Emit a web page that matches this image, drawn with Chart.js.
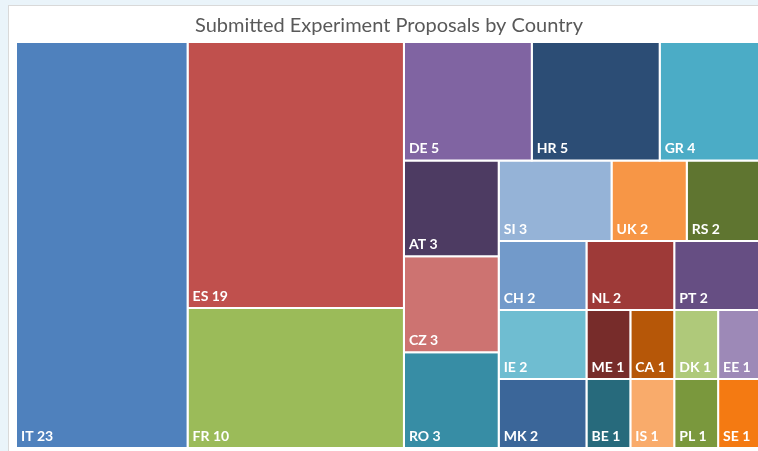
<!DOCTYPE html>
<html>
<head>
<meta charset="utf-8">
<script src="https://cdn.jsdelivr.net/npm/chart.js@4"></script>
<style>
  html, body { margin: 0; padding: 0; background: #eaf4fa; overflow: hidden; width: 758px; height: 451px; }
  #panel { position: absolute; left: 8px; top: 5px; width: 800px; height: 470px; background: #ffffff; border: 1px solid #d9d9d9; }
  #c { position: absolute; left: 0; top: 0; }
</style>
</head>
<body>
<div id="panel"><canvas id="c" width="760" height="446"></canvas></div>
<script>
// ---- data ----
const countries = ['IT','ES','FR','DE','HR','GR','AT','CZ','RO','SI','UK','RS','CH','IE','MK','NL','PT','ME','BE','CA','IS','DK','PL','EE','SE'];
const proposals = [23,19,10,5,5,4,3,3,3,3,2,2,2,2,2,2,2,1,1,1,1,1,1,1,1];
const cellColors = ['#4F81BD','#C0504D','#9BBB59','#8064A2','#2C4D75','#4BACC6','#4D3B62','#CD7371','#378DA5','#95B3D7','#F79646','#5F7530','#729ACA','#6FBDD1','#3B6699','#9E3A38','#664E83','#772C2A','#276A7C','#B65708','#F9AB6B','#AFC97A','#7A983D','#9D89B7','#F47A12'];
const chartTitle = 'Submitted Experiment Proposals by Country';
// strip plan of the treemap layout: number of items per strip and its direction
const stripSizes = [1,2,3,3,3,3,2,2,2,2,2];
const stripDirs  = ['col','col','row','col','row','col','row','col','col','col','col'];

// ---- slice layout in unit space (areas proportional to values) ----
function layout(values) {
  const rects = [];
  let r = {x: 0, y: 0, w: 1, h: 1};
  let remaining = values.reduce((a, b) => a + b, 0);
  let idx = 0;
  stripSizes.forEach((n, si) => {
    const items = values.slice(idx, idx + n);
    const s = items.reduce((a, b) => a + b, 0);
    const frac = s / remaining;
    if (stripDirs[si] === 'col') {
      const sw = r.w * frac;
      let yy = r.y;
      items.forEach(v => { const hh = r.h * v / s; rects.push({x0: r.x, x1: r.x + sw, y0: yy, y1: yy + hh}); yy += hh; });
      r = {x: r.x + sw, y: r.y, w: r.w - sw, h: r.h};
    } else {
      const sh = r.h * frac;
      let xx = r.x;
      items.forEach(v => { const ww = r.w * v / s; rects.push({x0: xx, x1: xx + ww, y0: r.y, y1: r.y + sh}); xx += ww; });
      r = {x: r.x, y: r.y + sh, w: r.w, h: r.h - sh};
    }
    remaining -= s;
    idx += n;
  });
  return rects;
}
const rects = layout(proposals);

const datasets = rects.map((rc, i) => ({
  label: countries[i],
  data: [
    {x: rc.x0, y: rc.y0}, {x: rc.x1, y: rc.y0}, {x: rc.x1, y: rc.y1}, {x: rc.x0, y: rc.y1}, {x: rc.x0, y: rc.y0}
  ],
  backgroundColor: cellColors[i],
  borderColor: '#ffffff',
  borderWidth: 2,
  borderJoinStyle: 'miter',
  fill: 'shape',
  pointRadius: 0,
  tension: 0
}));

const labelPlugin = {
  id: 'cellLabels',
  afterDatasetsDraw(chart) {
    const ctx = chart.ctx;
    const xs = chart.scales.x, ys = chart.scales.y;
    ctx.save();
    ctx.fillStyle = '#ffffff';
    ctx.font = 'bold 14px Lato';
    ctx.textBaseline = 'alphabetic';
    ctx.textAlign = 'left';
    rects.forEach((rc, i) => {
      const px = xs.getPixelForValue(rc.x0) + 5;
      const py = ys.getPixelForValue(rc.y1) - 7;
      ctx.fillText(countries[i] + ' ' + proposals[i], px, py);
    });
    ctx.restore();
  }
};

new Chart(document.getElementById('c'), {
  type: 'line',
  data: { datasets },
  options: {
    responsive: false,
    animation: false,
    events: [],
    layout: { padding: { left: 7, right: 7, top: 0, bottom: 4 } },
    scales: {
      x: { type: 'linear', min: 0, max: 1, display: false },
      y: { type: 'linear', min: 0, max: 1, reverse: true, display: false }
    },
    plugins: {
      legend: { display: false },
      tooltip: { enabled: false },
      title: {
        display: true,
        text: chartTitle,
        color: '#595959',
        font: { family: 'Lato', size: 20, weight: 'normal', lineHeight: 1.2 },
        padding: { top: 8, bottom: 4 }
      }
    }
  },
  plugins: [labelPlugin]
});
</script>
</body>
</html>
